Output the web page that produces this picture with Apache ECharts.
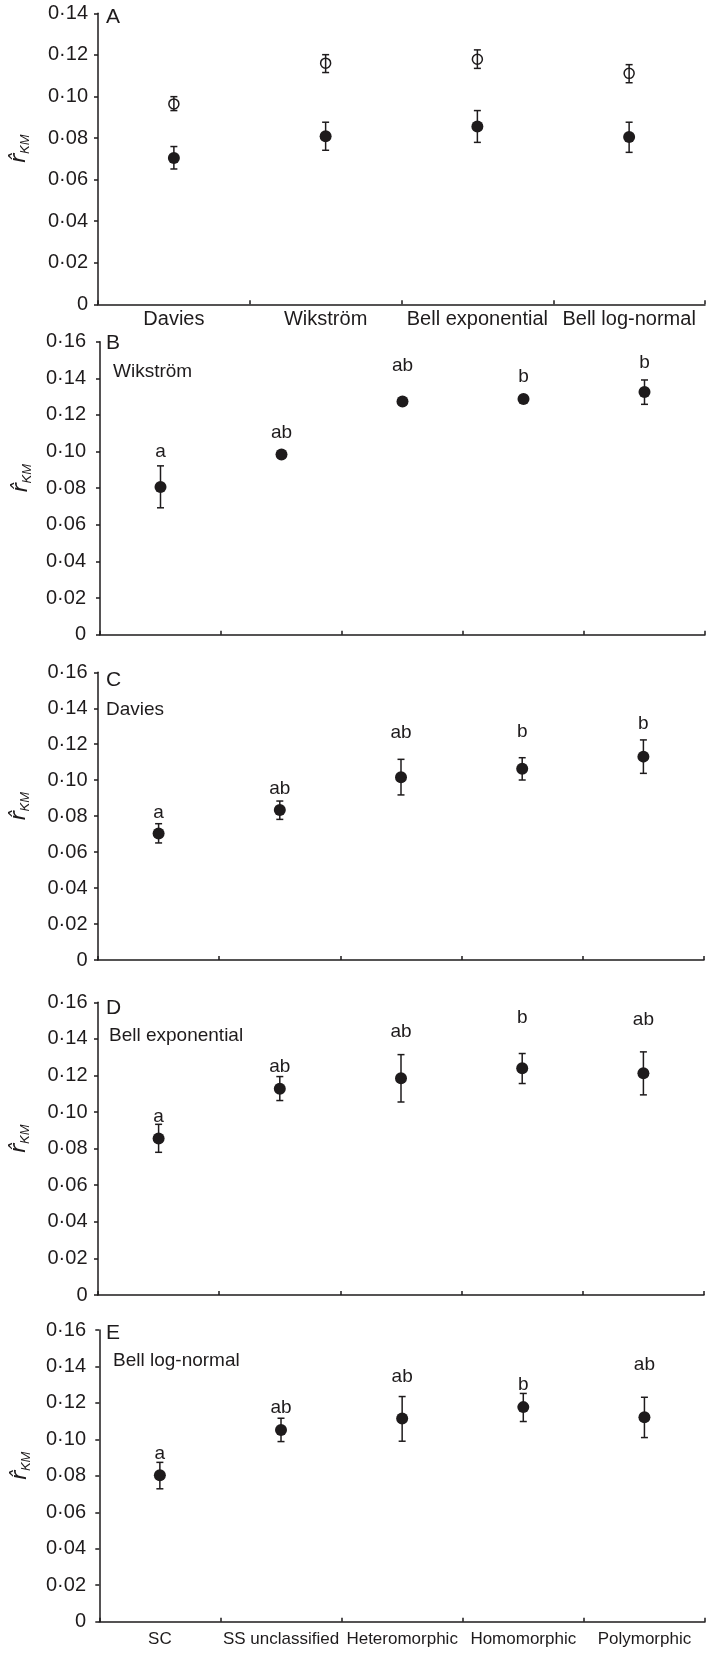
<!DOCTYPE html>
<html><head><meta charset="utf-8">
<script src="https://cdn.jsdelivr.net/npm/echarts@6/dist/echarts.min.js"></script>
<style>html,body{margin:0;padding:0;background:#fff}#c{width:706px;height:1653px}</style>
</head><body><div id="c"></div>
<script>
// ---------- data ----------
const methodCats = ['Davies', 'Wikström', 'Bell exponential', 'Bell log-normal'];
const groupCats = ['SC', 'SS unclassified', 'Heteromorphic', 'Homomorphic', 'Polymorphic'];
const tickLabelsA = ['0', '0·02', '0·04', '0·06', '0·08', '0·10', '0·12', '0·14'];
const tickLabelsBE = ['0', '0·02', '0·04', '0·06', '0·08', '0·10', '0·12', '0·14', '0·16'];

// Panel A
const openMeanA = [0.0964, 0.1160, 0.1179, 0.1111];
const openLoA   = [0.0932, 0.1115, 0.1135, 0.1066];
const openHiA   = [0.0999, 0.1201, 0.1224, 0.1153];
const fillMeanA = [0.0704, 0.0808, 0.0855, 0.0805];
const fillLoA   = [0.0651, 0.0741, 0.0779, 0.0731];
const fillHiA   = [0.0759, 0.0876, 0.0932, 0.0876];

// Panel B – Wikström
const meanB = [0.0807, 0.0984, 0.1273, 0.1287, 0.1325];
const loB   = [0.0693, null, null, null, 0.1258];
const hiB   = [0.0922, null, null, null, 0.1391];
const lettersB = ['a', 'ab', 'ab', 'b', 'b'];
const letterYB = [0.0998, 0.1102, 0.1467, 0.1411, 0.1485];

// Panel C – Davies
const meanC = [0.0704, 0.0834, 0.1016, 0.1064, 0.1131];
const loC   = [0.0651, 0.0782, 0.0918, 0.1001, 0.1038];
const hiC   = [0.0758, 0.0884, 0.1116, 0.1125, 0.1224];
const lettersC = ['a', 'ab', 'ab', 'b', 'b'];
const letterYC = [0.0819, 0.0955, 0.1264, 0.1268, 0.1313];

// Panel D – Bell exponential
const meanD = [0.0855, 0.1128, 0.1185, 0.1240, 0.1212];
const loD   = [0.0780, 0.1063, 0.1055, 0.1156, 0.1094];
const hiD   = [0.0933, 0.1194, 0.1314, 0.1320, 0.1329];
const lettersD = ['a', 'ab', 'ab', 'b', 'ab'];
const letterYD = [0.0975, 0.1249, 0.1440, 0.1518, 0.1507];

// Panel E – Bell log-normal
const meanE = [0.0803, 0.1052, 0.1114, 0.1177, 0.1122];
const loE   = [0.0729, 0.0988, 0.0990, 0.1098, 0.1010];
const hiE   = [0.0874, 0.1116, 0.1235, 0.1252, 0.1231];
const lettersE = ['a', 'ab', 'ab', 'b', 'ab'];
const letterYE = [0.0922, 0.1173, 0.1343, 0.1298, 0.1408];

const panelLetters = ['A', 'B', 'C', 'D', 'E'];
const panelNotes = ['', 'Wikström', 'Davies', 'Bell exponential', 'Bell log-normal'];

// ---------- style / layout ----------
const INK = '#1e1b1c';
const FONT = "'Liberation Sans', Arial, Helvetica, sans-serif";
const layouts = [
  {left: 96,   top: 13.3,   width: 609,   height: 291,   max: 0.14, ticks: tickLabelsA},
  {left: 100,  top: 341.7,  width: 605,   height: 293,   max: 0.16, ticks: tickLabelsBE},
  {left: 96.5, top: 672.3,  width: 607.5, height: 287.7, max: 0.16, ticks: tickLabelsBE},
  {left: 96.5, top: 1002.3, width: 607.5, height: 292.7, max: 0.16, ticks: tickLabelsBE},
  {left: 99.3, top: 1330,   width: 605.7, height: 291.7, max: 0.16, ticks: tickLabelsBE}
];
const letterPos = [17, 343, 680, 1008, 1333];
const notePos = [0, 372, 710, 1036, 1361];

function errItem(params, api) {
  const x = api.value(0), lo = api.value(1), hi = api.value(2);
  const p1 = api.coord([x, lo]), p2 = api.coord([x, hi]);
  const c = 3.5;
  const st = {stroke: INK, lineWidth: 1.5};
  return {type: 'group', children: [
    {type: 'line', shape: {x1: p1[0], y1: p1[1], x2: p2[0], y2: p2[1]}, style: st},
    {type: 'line', shape: {x1: p1[0] - c, y1: p1[1], x2: p1[0] + c, y2: p1[1]}, style: st},
    {type: 'line', shape: {x1: p2[0] - c, y1: p2[1], x2: p2[0] + c, y2: p2[1]}, style: st}
  ]};
}
function errData(lo, hi) {
  const out = [];
  lo.forEach((l, i) => { if (l != null && hi[i] != null) out.push([i, l, hi[i]]); });
  return out;
}
function pts(arr) { return arr.map((v, i) => [i, v]); }

const grids = [], xAxes = [], yAxes = [], series = [], graphics = [];
layouts.forEach((L, k) => {
  grids.push({left: L.left, top: L.top, width: L.width, height: L.height, containLabel: false});
  const isA = k === 0, isE = k === 4;
  xAxes.push({
    type: 'category', gridIndex: k, data: isA ? methodCats : groupCats,
    boundaryGap: true,
    axisLine: {show: true, lineStyle: {color: INK, width: 1.5}},
    axisTick: {show: true, inside: true, length: 4, alignWithLabel: false, lineStyle: {color: INK, width: 1.5}},
    axisLabel: {show: isA || isE, interval: 0, color: INK, fontFamily: FONT,
      fontSize: isA ? 20 : 17, margin: isA ? 5 : 9},
    splitLine: {show: false}
  });
  yAxes.push({
    type: 'value', gridIndex: k, min: 0, max: L.max, interval: 0.02,
    axisLine: {show: true, lineStyle: {color: INK, width: 1.5}},
    axisTick: {show: true, inside: false, length: 4, lineStyle: {color: INK, width: 1.5}},
    axisLabel: {color: INK, fontFamily: FONT, fontSize: 20, margin: L.left - 86,
      formatter: (v) => L.ticks[Math.round(v / 0.02)]},
    splitLine: {show: false},
    name: '{r|r\u0302}{s|KM}',
    nameLocation: 'middle', nameRotate: 90, nameGap: 66,
    nameTextStyle: {color: INK, padding: [0, 0, 0, 20],
      rich: {
        r: {fontFamily: "'DejaVu Sans', sans-serif", fontStyle: 'italic', fontSize: 22, lineHeight: 26, verticalAlign: 'middle', color: INK},
        s: {fontFamily: FONT, fontStyle: 'italic', fontSize: 13, lineHeight: 26, verticalAlign: 'bottom', color: INK}
      }}
  });
  graphics.push({type: 'text', x: 106, y: letterPos[k],
    style: {text: panelLetters[k], font: '21px ' + FONT, fill: INK, textAlign: 'left', textVerticalAlign: 'middle'}});
  if (panelNotes[k]) {
    graphics.push({type: 'text', x: k === 2 ? 106 : (k === 3 ? 109 : 113), y: notePos[k],
      style: {text: panelNotes[k], font: '19px ' + FONT, fill: INK, textAlign: 'left', textVerticalAlign: 'middle'}});
  }
});

function addErr(k, lo, hi) {
  series.push({type: 'custom', xAxisIndex: k, yAxisIndex: k, renderItem: errItem,
    data: errData(lo, hi), encode: {x: 0, y: [1, 2]}, z: 2, silent: true});
}
function addPts(k, mean, hollow) {
  series.push({type: 'scatter', xAxisIndex: k, yAxisIndex: k, data: pts(mean),
    symbol: 'circle', symbolSize: hollow ? 10 : 12, z: 3, silent: true,
    itemStyle: hollow ? {color: 'rgba(0,0,0,0)', borderColor: INK, borderWidth: 1.5, opacity: 1}
                      : {color: INK, opacity: 1}});
}
function addLetters(k, letters, ys) {
  series.push({type: 'scatter', xAxisIndex: k, yAxisIndex: k, data: pts(ys),
    symbol: 'circle', symbolSize: 1, z: 4, silent: true,
    itemStyle: {color: '#ffffff', opacity: 0},
    label: {show: true, position: 'inside', formatter: (p) => letters[p.dataIndex],
      color: INK, opacity: 1, textBorderWidth: 0, fontFamily: FONT, fontSize: 19}});
}

// A
addErr(0, openLoA, openHiA); addErr(0, fillLoA, fillHiA);
addPts(0, openMeanA, true); addPts(0, fillMeanA, false);
// B-E
[[meanB, loB, hiB, lettersB, letterYB], [meanC, loC, hiC, lettersC, letterYC],
 [meanD, loD, hiD, lettersD, letterYD], [meanE, loE, hiE, lettersE, letterYE]].forEach((d, j) => {
  const k = j + 1;
  addErr(k, d[1], d[2]); addPts(k, d[0], false); addLetters(k, d[3], d[4]);
});

const chart = echarts.init(document.getElementById('c'), null, {renderer: 'canvas'});
chart.setOption({
  animation: false, backgroundColor: '#fff',
  grid: grids, xAxis: xAxes, yAxis: yAxes, series: series, graphic: graphics
});
</script></body></html>
